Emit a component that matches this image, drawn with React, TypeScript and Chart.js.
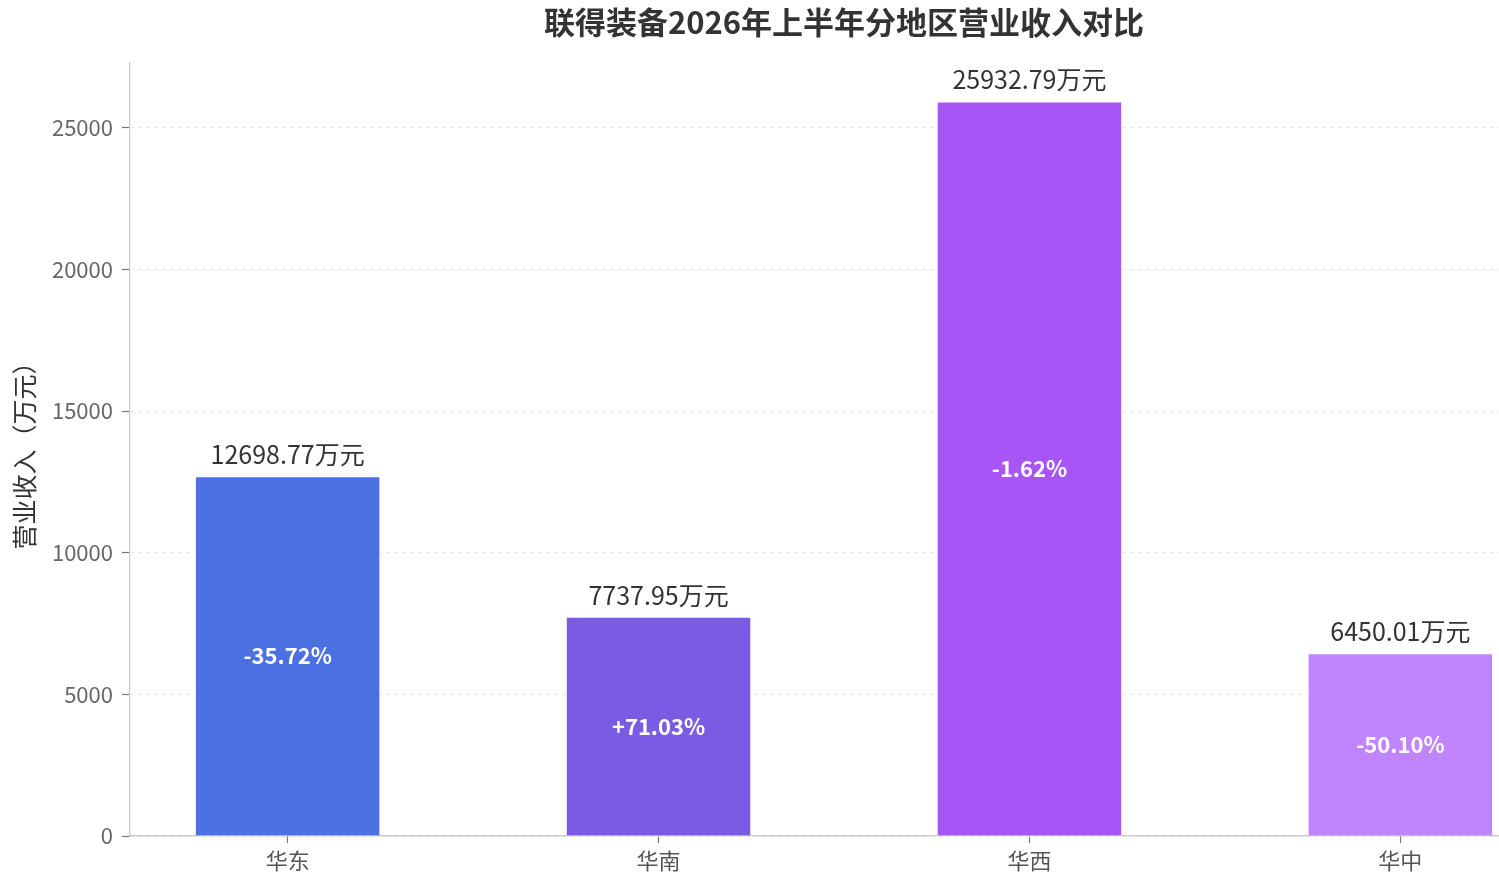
import React, { useEffect, useRef } from 'react';
import { Chart, registerables } from 'chart.js';

Chart.register(...registerables);

const TITLE = '联得装备2026年上半年分地区营业收入对比';
const Y_TITLE = '营业收入（万元）';
const categories = ['华东', '华南', '华西', '华中'];
const revenue = [12698.77, 7737.95, 25932.79, 6450.01];
const changeLabels = ['-35.72%', '+71.03%', '-1.62%', '-50.10%'];
const barColors = ['#4A70E2', '#7A5CE4', '#A855F7', '#C084FC'];
const yTicks = [0, 5000, 10000, 15000, 20000, 25000];
const Y_MAX = 27290;
const X_MIN = -0.425;
const X_MAX = 3.425;
const FONT = '"Noto Sans CJK SC", "Noto Sans", sans-serif';

export default function App() {
  const ref = useRef<HTMLCanvasElement>(null);

  useEffect(() => {
    document.body.style.margin = '0';
    const canvas = ref.current;
    if (!canvas) return;

    const labelPlugin = {
      id: 'barLabels',
      afterDatasetsDraw(chart: any) {
        const ctx = chart.ctx;
        const meta = chart.getDatasetMeta(0);
        ctx.save();
        meta.data.forEach((bar: any, i: number) => {
          const { x, y, base } = bar.getProps(['x', 'y', 'base'], true);
          ctx.textAlign = 'center';
          ctx.fillStyle = '#333333';
          ctx.font = `25px ${FONT}`;
          ctx.textBaseline = 'alphabetic';
          ctx.fillText(`${revenue[i].toFixed(2)}万元`, x, y - 12);
          ctx.fillStyle = '#ffffff';
          ctx.font = `bold 22px ${FONT}`;
          ctx.textBaseline = 'middle';
          ctx.fillText(changeLabels[i], x, (y + base) / 2);
        });
        ctx.restore();
      },
      afterDraw(chart: any) {
        const ctx = chart.ctx;
        const area = chart.chartArea;
        ctx.save();
        ctx.fillStyle = '#333333';
        ctx.font = `bold 31px ${FONT}`;
        ctx.textAlign = 'center';
        ctx.textBaseline = 'middle';
        ctx.fillText(TITLE, (area.left + area.right) / 2, 22);
        ctx.restore();
      },
    };

    const chart = new Chart(canvas, {
      type: 'bar',
      data: {
        datasets: [
          {
            data: revenue.map((v, i) => ({ x: i, y: v })),
            backgroundColor: barColors,
            borderColor: 'rgba(255,255,255,0.75)',
            borderWidth: 1,
            barPercentage: 0.5,
            categoryPercentage: 1,
          },
        ],
      },
      options: {
        animation: false,
        responsive: false,
        layout: { padding: { top: 63, right: 2, bottom: 0, left: 0 } },
        plugins: {
          legend: { display: false },
          tooltip: { enabled: false },
        },
        scales: {
          x: {
            type: 'linear',
            offset: false,
            min: X_MIN,
            max: X_MAX,
            afterBuildTicks: (s: any) => {
              s.ticks = categories.map((_, i) => ({ value: i }));
            },
            afterFit: (s: any) => {
              s.height = 44;
            },
            ticks: {
              callback: (v: any) => categories[Math.round(Number(v))] ?? '',
              font: { family: FONT, size: 22 },
              color: '#555555',
              padding: 4,
              autoSkip: false,
              maxRotation: 0,
            },
            grid: {
              offset: false,
              drawOnChartArea: false,
              drawTicks: true,
              tickLength: 7,
              tickColor: '#777777',
              tickWidth: 1.2,
            },
            border: { color: '#c8c8c8', width: 1.2 },
          },
          y: {
            type: 'linear',
            min: 0,
            max: Y_MAX,
            afterBuildTicks: (s: any) => {
              s.ticks = yTicks.map((v) => ({ value: v }));
            },
            afterFit: (s: any) => {
              s.width = 130;
            },
            ticks: {
              font: { family: FONT, size: 22 },
              color: '#666666',
              padding: 9,
              callback: (v: any) => String(v),
            },
            grid: {
              color: '#e6e6e6',
              lineWidth: 1,
              tickLength: 8,
              tickColor: '#777777',
              tickWidth: 1.2,
              tickBorderDash: [],
            },
            border: { color: '#c8c8c8', width: 1.2, dash: [4, 4] },
            title: {
              display: true,
              text: Y_TITLE,
              font: { family: FONT, size: 25 },
              color: '#333333',
              padding: { top: 9, bottom: 0 },
            },
          },
        },
      },
      plugins: [labelPlugin],
    } as any);

    return () => chart.destroy();
  }, []);

  return (
    <div style={{ width: 1499, height: 880, overflow: 'hidden', position: 'relative' }}>
      <canvas
        ref={ref}
        width={1560}
        height={880}
        style={{ width: 1560, height: 880, display: 'block' }}
      />
    </div>
  );
}
